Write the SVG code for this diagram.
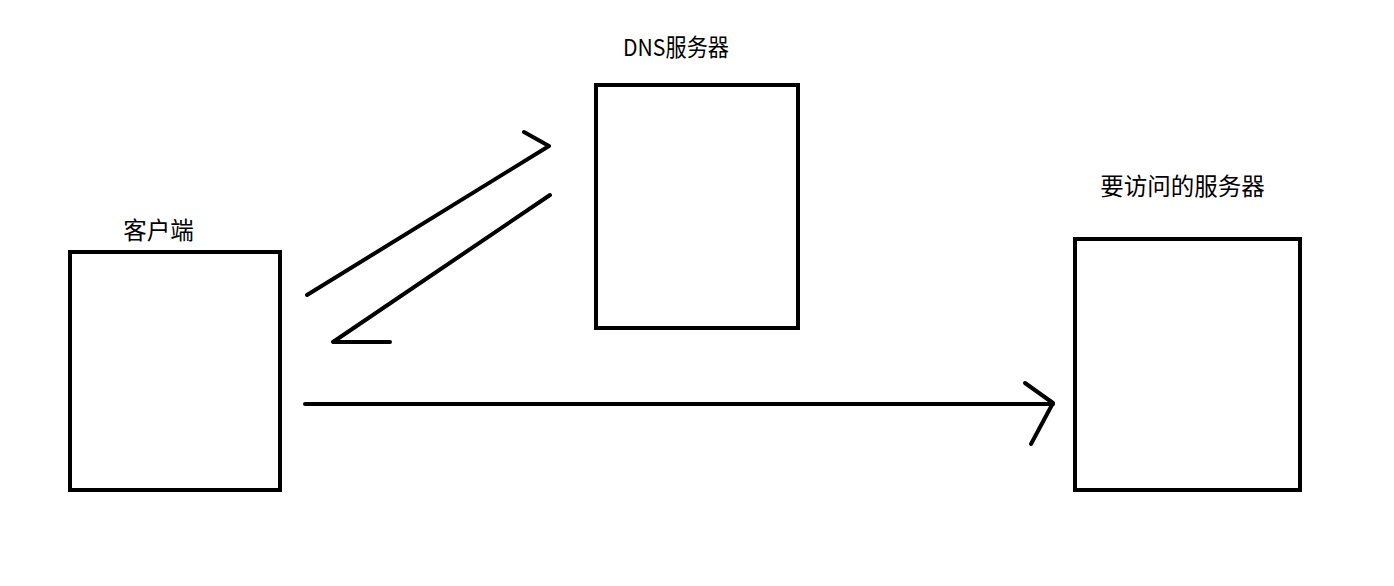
<svg xmlns="http://www.w3.org/2000/svg" width="1394" height="586" viewBox="0 0 1394 586">
<style>
.box{fill:none;stroke:#000;stroke-width:4}
.ln{fill:none;stroke:#000;stroke-width:4;stroke-linecap:round;stroke-linejoin:round}
.lbl{font-family:"Noto Sans CJK SC","Liberation Sans",sans-serif;font-size:23.5px;fill:#000}
</style>
<rect width="1394" height="586" fill="#fff"/>
<g id="client">
<rect class="box" x="70" y="252" width="210" height="238"/>
<text class="lbl" x="158.5" y="239" text-anchor="middle">客户端</text>
</g>
<g id="dns">
<rect class="box" x="596" y="85" width="202" height="243"/>
<text class="lbl" x="623" y="56" textLength="106" lengthAdjust="spacingAndGlyphs">DNS服务器</text>
</g>
<g id="target">
<rect class="box" x="1075" y="239" width="225" height="251"/>
<text class="lbl" x="1182.5" y="195" text-anchor="middle">要访问的服务器</text>
</g>
<g id="connectors">
<polyline class="ln" points="307,295 549,146 524,132"/>
<polyline class="ln" points="550,195 333,342 390,342"/>
<line class="ln" x1="305" y1="404" x2="1053" y2="404"/>
<polyline class="ln" points="1025,383 1053,403 1031,444"/>
</g>
</svg>
